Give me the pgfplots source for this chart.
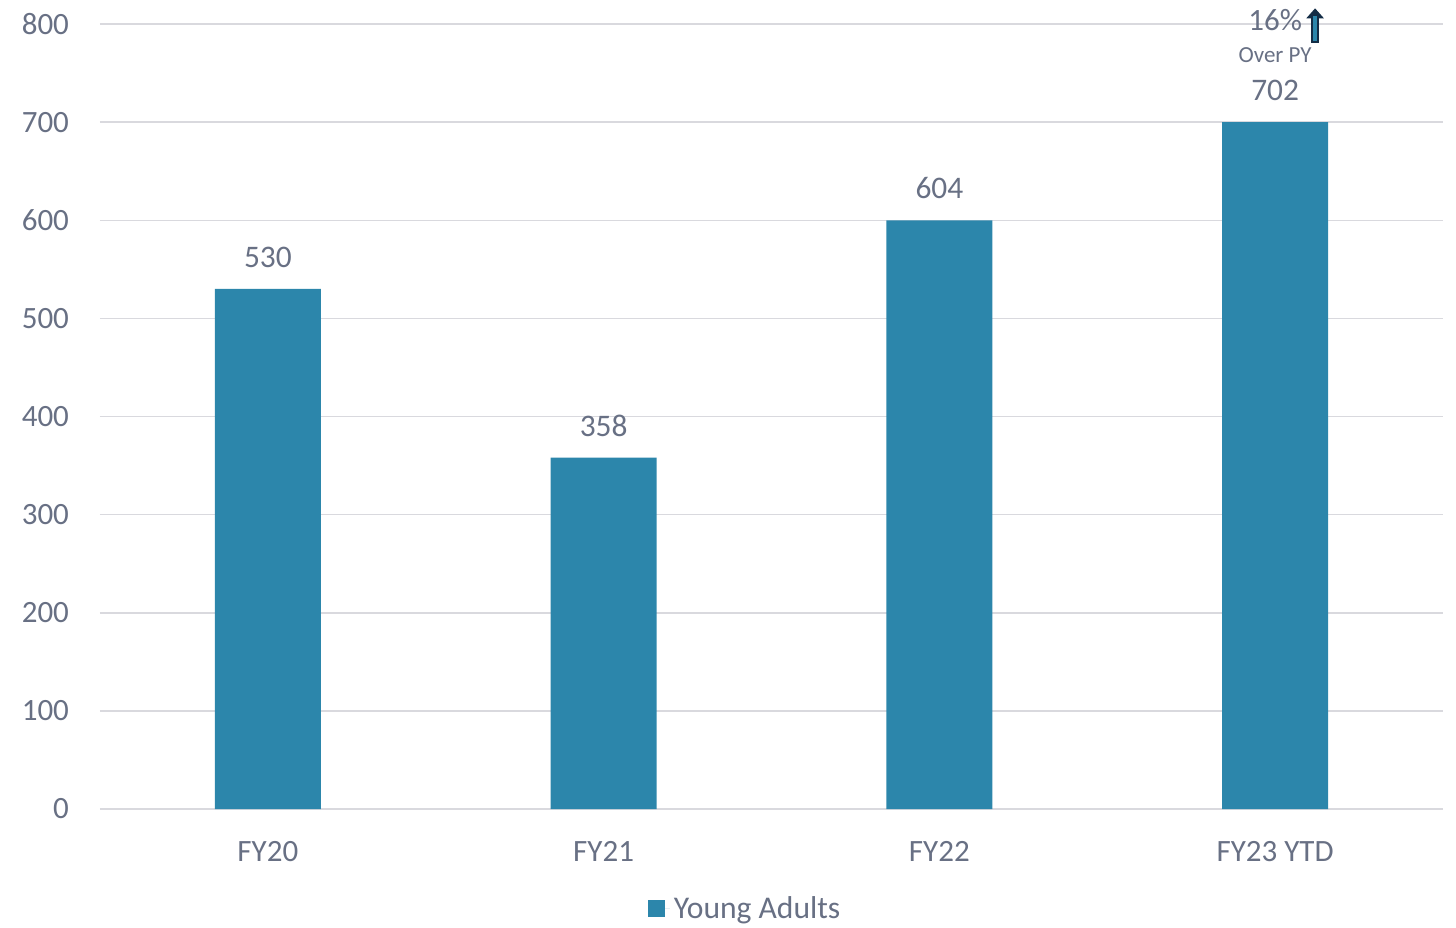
\documentclass[border=0pt]{standalone}
\usepackage{pgfplots}
\pgfplotsset{compat=1.18}
\usepackage{fontspec}
\setmainfont{Carlito}
\usetikzlibrary{arrows.meta}
\definecolor{bar}{RGB}{44,134,171}
\definecolor{txt}{RGB}{104,112,132}
\definecolor{grd}{RGB}{217,217,222}
\definecolor{navy}{RGB}{20,45,70}
\begin{document}
\begin{tikzpicture}
\path[use as bounding box] (0,0) rectangle (728pt,463.5pt);
\begin{axis}[
  at={(50pt,59pt)}, anchor=south west,
  width=671.5pt, height=392.5pt, scale only axis,
  xmin=-0.5, xmax=3.5, ymin=0, ymax=800,
  ytick={0,100,...,800},
  xtick={0,1,2,3},
  xticklabels={FY20,FY21,FY22,FY23 YTD},
  ymajorgrids, grid style={grd, line width=0.75pt},
  axis line style={draw=none},
  major tick length=0pt,
  /pgf/number format/assume math mode=true,
  ticklabel style={font=\fontsize{15.5pt}{17pt}\selectfont, text=txt},
  yticklabel style={xshift=-12pt},
  xticklabel style={yshift=-12.5pt},
  clip=false,
  legend style={draw=none, fill=none, at={(0.4811,-0.1270)}, anchor=center,
    font=\fontsize{15.8pt}{17pt}\selectfont, text=txt,
    legend cell align=left},
  legend image code/.code={\fill[bar] (0pt,-4.3pt) rectangle (8.5pt,4.3pt); \path (8.5pt,0pt) -- (11pt,0pt);},
]
\addplot[ybar, bar width=53pt, fill=bar, draw=none,
  point meta=explicit,
  nodes near coords={\pgfmathprintnumber{\pgfplotspointmeta}},
  nodes near coords style={font=\fontsize{15.7pt}{17pt}\selectfont, text=txt, anchor=center, yshift=16pt},
] coordinates {(0,530) [530] (1,358) [358] (2,600) [604] (3,700) [702]};
\addlegendentry{Young Adults}
\node[font=\fontsize{15.5pt}{17pt}\selectfont, text=txt] at (axis cs:3,804) {16\%};
\node[font=\fontsize{11.5pt}{13pt}\selectfont, text=txt] at (axis cs:3,768.4) {Over PY};
\draw[navy, line width=3.6pt, -{Triangle[width=8.5pt,length=5pt]}] (axis cs:3.119,781) -- (axis cs:3.119,816);
\draw[bar, line width=1.6pt] (axis cs:3.119,782.2) -- (axis cs:3.119,808);
\end{axis}
\end{tikzpicture}
\end{document}
